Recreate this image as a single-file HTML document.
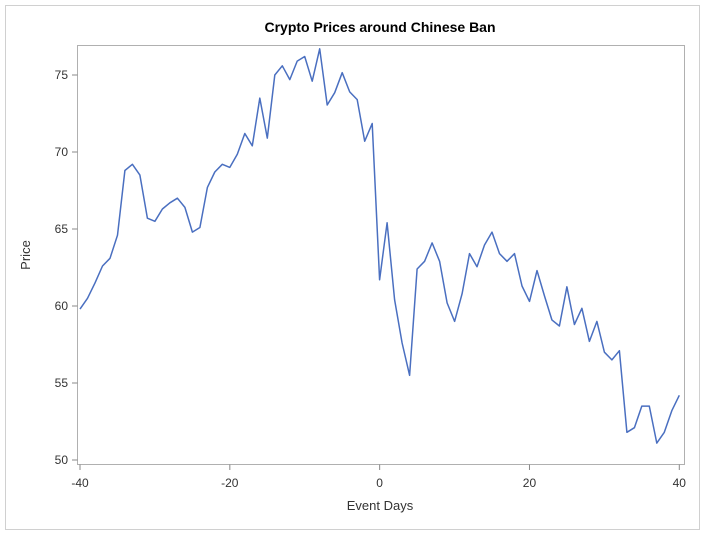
<!DOCTYPE html>
<html><head><meta charset="utf-8"><style>
body{margin:0;background:#fff;font-family:"Liberation Sans",Arial,sans-serif}
</style></head><body>
<svg width="705" height="536" xmlns="http://www.w3.org/2000/svg">
<rect x="5.5" y="5.5" width="694" height="524" fill="#fff" stroke="#d0d0d0"/>
<text x="380" y="32" text-anchor="middle" font-size="14" font-weight="bold" fill="#000">Crypto Prices around Chinese Ban</text>
<rect x="77.5" y="45.5" width="607" height="419" fill="none" stroke="#b0b0b0"/>
<g id="axes"></g>
<path id="line" fill="none" stroke="#4a6fc0" stroke-width="1.5" stroke-linejoin="round"/>
<text x="380" y="510" text-anchor="middle" font-size="13" fill="#333">Event Days</text>
<text x="30" y="255" text-anchor="middle" font-size="13" fill="#333" transform="rotate(-90 30 255)">Price</text>
</svg>
<script>
const days = [];
for (let d = -40; d <= 40; d++) days.push(d);
const prices = [59.8,60.5,61.5,62.6,63.1,64.6,68.8,69.2,68.5,65.7,65.5,66.3,66.7,67.0,66.4,64.8,65.1,67.7,68.7,69.2,69.0,69.85,71.2,70.4,73.5,70.9,75.0,75.6,74.7,75.9,76.2,74.6,76.7,73.05,73.85,75.15,73.9,73.4,70.7,71.85,
61.7,65.4,60.4,57.6,55.5,62.4,62.9,64.1,62.9,60.2,59.0,60.8,63.4,62.55,63.96,64.8,63.4,62.9,63.4,61.3,60.3,62.3,60.65,59.1,58.7,61.25,58.8,59.85,57.7,59.0,57.0,56.5,57.1,51.8,52.1,53.5,53.5,51.1,51.8,53.2,54.2];
const xTicks = [-40,-20,0,20,40];
const yTicks = [50,55,60,65,70,75];
const xs = v => 80 + (v + 40) * (599.3 / 80);
const ys = v => 460 - (v - 50) * 15.4;
const NS = "http://www.w3.org/2000/svg";
const g = document.getElementById('axes');
function mk(tag, attrs){const e=document.createElementNS(NS,tag);for(const k in attrs)e.setAttribute(k,attrs[k]);return e;}
xTicks.forEach(t=>{
  const l=mk('line',{x1:xs(t),x2:xs(t),y1:464.5,y2:470,stroke:'#888'});
  
  
  g.appendChild(l);
  const tx=mk('text',{x:xs(t),y:487,'text-anchor':'middle','font-size':'12',fill:'#333'});
  
  
  tx.textContent=t; g.appendChild(tx);
});
yTicks.forEach(t=>{
  const l=mk('line',{x1:72,x2:77.5,y1:ys(t),y2:ys(t),stroke:'#888'});
  
  
  g.appendChild(l);
  const tx=mk('text',{x:68,y:ys(t)+4,'text-anchor':'end','font-size':'12',fill:'#333'});
  
  
  tx.textContent=t; g.appendChild(tx);
});
document.getElementById('line').setAttribute('d', prices.map((p,i)=>(i?'L':'M')+xs(days[i]).toFixed(1)+','+ys(p).toFixed(1)).join(' '));
</script>
</body></html>
